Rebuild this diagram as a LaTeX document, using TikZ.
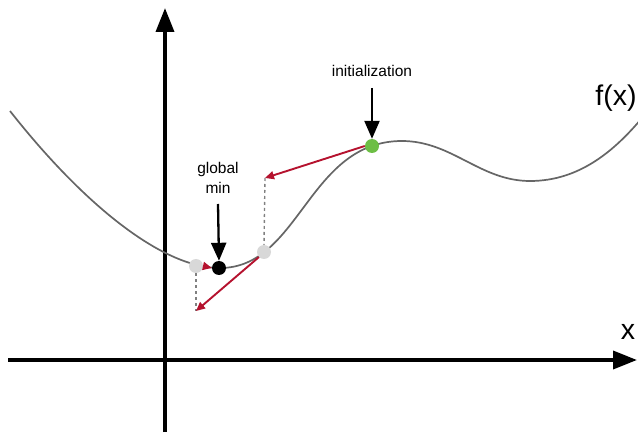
\documentclass[tikz,border=0pt]{standalone}
\usepackage{fontspec}
\setmainfont{Liberation Sans}
\usetikzlibrary{arrows.meta}
\definecolor{gradred}{HTML}{B5122E}
\definecolor{curvegray}{HTML}{666666}
\definecolor{ptgray}{HTML}{D8D8D8}
\definecolor{initgreen}{HTML}{6DBE45}
\tikzset{
  axis/.style={line width=3.6pt,-{Triangle[length=24pt,width=18pt]}},
  curveline/.style={curvegray,line width=1.7pt},
  dot/.style={circle,inner sep=0pt,minimum size=14pt},
  gradarrow/.style={gradred,line width=1.9pt,-{Triangle[length=9pt,width=8pt]}},
  droparrow/.style={line width=2.3pt,-{Triangle[length=18pt,width=15pt]}},
  dropline/.style={gray,line width=1.4pt,dash pattern=on 3pt off 3pt},
  lbl/.style={font=\fontsize{15.5}{17}\selectfont,align=center,inner sep=0pt},
}
\begin{document}
\begin{tikzpicture}[x=1pt,y=-1pt]
\useasboundingbox (0,0) rectangle (638,433);
% axes
\coordinate (ybot) at (165,432);
\coordinate (ytop) at (165,8);
\coordinate (xleft) at (8,360);
\coordinate (xright) at (637,360);
\draw[axis] (ybot) -- (ytop);
\draw[axis] (xleft) -- (xright);
% curve
\draw[curveline] (10,111) .. controls (80,200) and (160,268) .. (220,268)
  .. controls (300,268) and (308,141) .. (402,141)
  .. controls (452,141) and (480,181) .. (530,181)
  .. controls (580,181) and (615,150) .. (642,118);
% points
\node[dot,fill=ptgray] (p1) at (196,266) {};
\node[dot,fill=black] (gmin) at (219,268) {};
\node[dot,fill=ptgray] (p2) at (264,252) {};
\node[dot,fill=initgreen] (init) at (372,146) {};
% gradient step ends
\coordinate (s1) at (265,178);
\coordinate (s2) at (196,311);
% dotted drops
\draw[dropline] (s1) -- (p2.north);
\draw[dropline] (p1.south) -- (s2);
% gradient arrows
\draw[gradarrow] (init.west) -- (s1);
\draw[gradarrow] (p2.south west) -- (s2);
\draw[gradarrow] (p1.east) -- (gmin.west);
% labels
\node[lbl] (gl) at (218,178) {global\\[3pt]min};
\coordinate (ga) at (218,204);
\draw[droparrow] (ga) -- (gmin.north);
\node[lbl] (il) at (372,71) {initialization};
\coordinate (ia) at (372,88);
\draw[droparrow] (ia) -- (init.north);
\node[font=\fontsize{28.5}{30}\selectfont,inner sep=0pt] (fx) at (616,98) {f(x)};
\node[font=\fontsize{28.5}{30}\selectfont,inner sep=0pt] (xl) at (628,332) {x};
\end{tikzpicture}
\end{document}
